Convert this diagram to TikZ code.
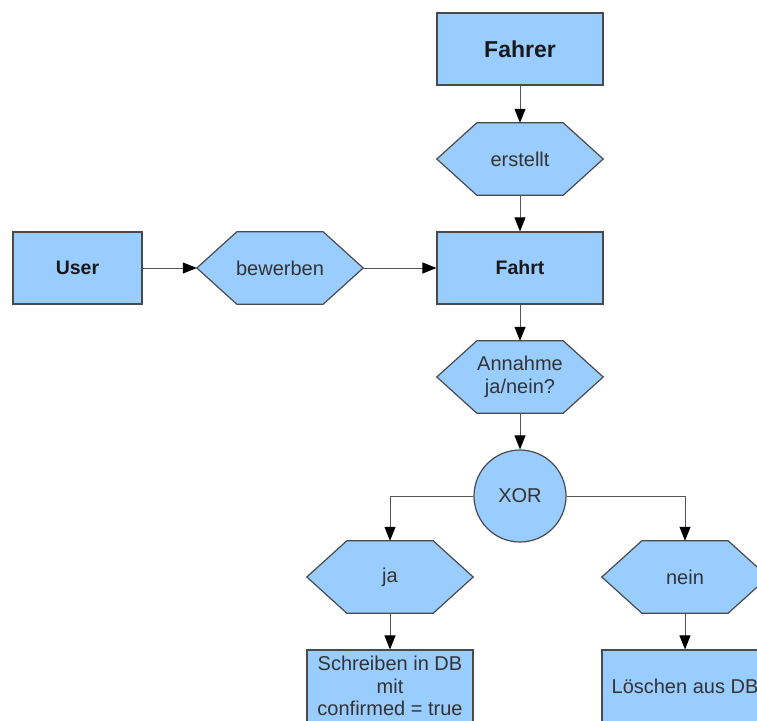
\documentclass[tikz,border=0pt]{standalone}
\usepackage{fontspec}
\setmainfont{Liberation Sans}
\usetikzlibrary{arrows.meta}
\pgfdeclarelayer{background}
\pgfsetlayers{background,main}
\definecolor{boxfill}{HTML}{99CCFF}
\definecolor{boxline}{HTML}{4A4A4A}
\definecolor{txt}{HTML}{333333}
\definecolor{wire}{HTML}{555555}
\begin{document}
\begin{tikzpicture}[x=1pt,y=-1pt,
  base/.style={inner sep=0pt, text=txt, align=center,
    font=\fontsize{20}{23}\selectfont},
  box/.style={base, rectangle, draw=boxline, fill=boxfill, line width=1.2pt,
    minimum width=166pt, minimum height=72pt},
  entity/.style={box, text=black!90, font=\fontsize{19.5}{22}\selectfont\bfseries},
  hexnode/.style={base, rectangle, minimum width=166pt, minimum height=72pt},
  hexshape/.style={draw=boxline, fill=boxfill, line width=1.2pt, line join=miter},
  gate/.style={base, circle, draw=boxline, fill=boxfill, line width=1.2pt,
    minimum size=92pt},
  flow/.style={draw=wire, line width=1pt,
    -{Triangle[length=14pt,width=11pt,color=black,fill=black]}},
]
\useasboundingbox (0,0) rectangle (757,720);
\clip (0,0) rectangle (757,720);

% entities and actions
\node[entity, font=\fontsize{23}{26}\selectfont\bfseries] (fahrer) at (520,49) {Fahrer};
\node[hexnode] (erstellt) at (520,159) {erstellt};
\node[entity] (fahrt) at (520,268) {Fahrt};
\node[entity, minimum width=129pt] (user) at (77.5,268) {User};
\node[hexnode] (bewerben) at (280,268) {bewerben};
\node[hexnode] (annahme) at (520,377) {Annahme\\ja/nein?};
\node[gate] (xor) at (520,496) {XOR};
\node[hexnode] (ja) at (390,577) {ja};
\node[hexnode] (nein) at (685,577) {nein};
\node[box, font=\fontsize{20}{22.5}\selectfont] (schreiben) at (390,686) {Schreiben in DB\\mit\\confirmed = true};
\node[box] (loeschen) at (685,686) {Löschen aus DB};

% hexagonal outlines behind the action labels
\begin{pgfonlayer}{background}
\foreach \n in {erstellt,bewerben,annahme,ja,nein}
  \path[hexshape] (\n.west) -- ([xshift=40pt]\n.north west)
    -- ([xshift=-40pt]\n.north east) -- (\n.east)
    -- ([xshift=-40pt]\n.south east) -- ([xshift=40pt]\n.south west) -- cycle;
\end{pgfonlayer}

% connectors
\draw[flow] (fahrer) -- (erstellt);
\draw[flow] (erstellt) -- (fahrt);
\draw[flow] (user) -- (bewerben);
\draw[flow] (bewerben) -- (fahrt);
\draw[flow] (fahrt) -- (annahme);
\draw[flow] (annahme) -- (xor);
\draw[flow] (xor.west) -| (ja.north);
\draw[flow] (xor.east) -| (nein.north);
\draw[flow] (ja) -- (schreiben);
\draw[flow] (nein) -- (loeschen);
\end{tikzpicture}
\end{document}
